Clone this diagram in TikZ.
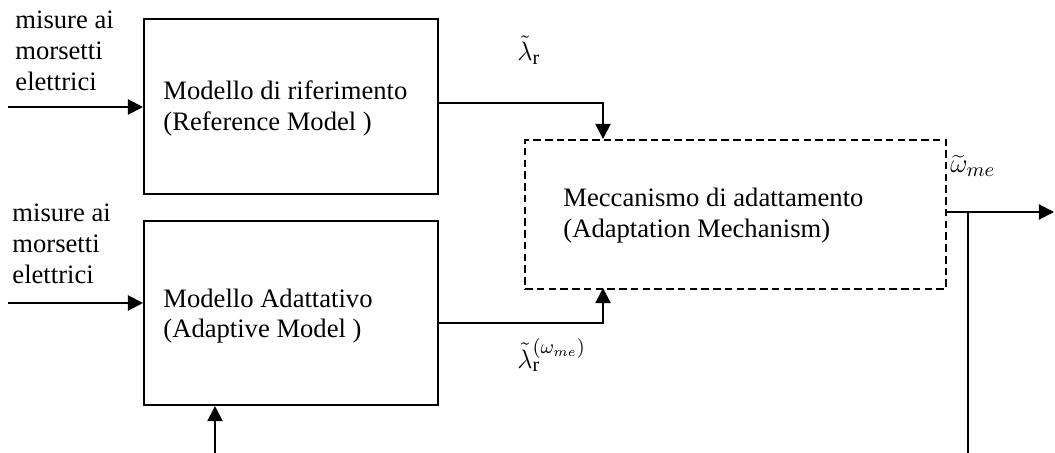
\documentclass[tikz,border=0pt]{standalone}
\usepackage{fontspec}
\setmainfont{Liberation Serif}
\usetikzlibrary{arrows.meta}
\tikzset{
  blk/.style={draw, line width=0.9pt, anchor=north west, inner sep=0pt},
  dblk/.style={draw, line width=0.9pt, dash pattern=on 3.4pt off 1.9pt, anchor=north west, inner sep=0pt},
  txt/.style={anchor=base west, inner sep=0pt, font=\fontsize{12}{13.8}\selectfont},
  mlbl/.style={anchor=base west, inner sep=0pt, font=\fontsize{13}{15}\selectfont},
  wire/.style={line width=0.9pt},
  arr/.style={line width=0.9pt, -{Triangle[length=6.8pt,width=6.8pt]}},
}
\newcommand{\lines}[1]{\begin{tabular}[t]{@{}l@{}}#1\end{tabular}}
\begin{document}
\begin{tikzpicture}[x=0.451pt, y=-0.451pt]
\useasboundingbox (0,0) rectangle (1055,453);
% blocks
\node[blk, minimum width=132.6pt, minimum height=78.9pt] (ref) at (143,18) {};
\node[blk, minimum width=132.6pt, minimum height=83.0pt] (adp) at (143,220) {};
\node[dblk, minimum width=189.9pt, minimum height=67.2pt] (mech) at (524,139) {};
% block texts
\node[txt] (reft) at (163,100) {\lines{Modello di riferimento\\(Reference Model )}};
\node[txt] (adpt) at (163,307) {\lines{Modello Adattativo\\(Adaptive Model )}};
\node[txt] (mecht) at (563,207) {\lines{Meccanismo di adattamento\\(Adaptation Mechanism)}};
% input labels
\node[txt] (in1t) at (15,29) {\lines{misure ai\\morsetti\\elettrici}};
\node[txt] (in2t) at (12,222) {\lines{misure ai\\morsetti\\elettrici}};
% signal labels
\node[mlbl] (lr) at (517,61) {$\tilde{\lambda}_{\mathrm{r}}$};
\node[mlbl] (lra) at (517,368) {$\tilde{\lambda}_{\mathrm{r}}^{(\omega_{me})}$};
\node[mlbl] (om) at (950,173) {$\widetilde{\omega}_{me}$};
% coordinates
\coordinate (in1) at (8,107);
\coordinate (in2) at (8,303);
\coordinate (m1) at (603,139);
\coordinate (m2) at (603,288);
\coordinate (out) at (1054,212);
\coordinate (j) at (968,212);
\coordinate (jb) at (968,453);
\coordinate (fb) at (215,453);
% connectors
\draw[arr] (in1) -- (ref.west |- in1);
\draw[arr] (in2) -- (adp.west |- in2);
\draw[arr] ([yshift=1.5pt]ref.east) -| (m1);
\draw[arr] ([yshift=-4.5pt]adp.east) -| (m2);
\draw[arr] (mech.east |- out) -- (out);
\draw[wire] (j) -- (jb);
\draw[arr] (fb) -- (adp.south -| fb);
\end{tikzpicture}
\end{document}
